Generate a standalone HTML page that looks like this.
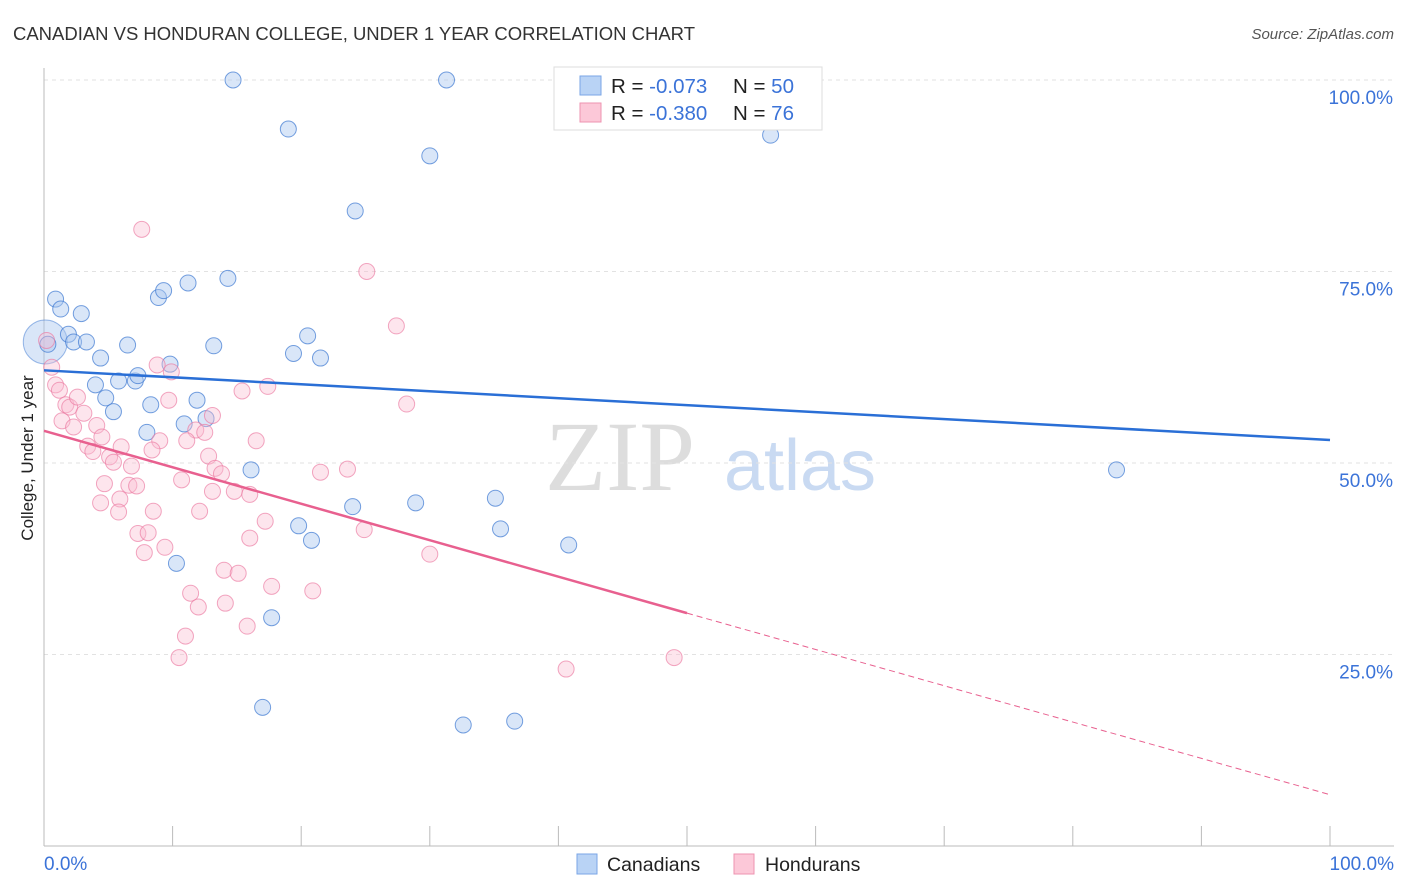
<!DOCTYPE html>
<html><head><meta charset="utf-8"><style>
body{margin:0;background:#fff;font-family:"Liberation Sans",sans-serif}
#c{position:absolute;left:0;top:0}
</style></head><body>
<svg id="c" width="1406" height="892" xmlns="http://www.w3.org/2000/svg">
<text x="13" y="40" font-size="18.5" fill="#333" textLength="682">CANADIAN VS HONDURAN COLLEGE, UNDER 1 YEAR CORRELATION CHART</text>
<text x="1394" y="39" font-size="15" fill="#555" font-style="italic" text-anchor="end">Source: ZipAtlas.com</text>
<text x="620" y="490" font-size="100" fill="#ddd" font-family="Liberation Serif,serif" text-anchor="middle">ZIP</text>
<text x="800" y="490" font-size="72" fill="#c9daf2" text-anchor="middle">atlas</text>
<g id="grid"></g>
<line x1="44" y1="68" x2="44" y2="846" stroke="#bbb"/>
<line x1="44" y1="846" x2="1394" y2="846" stroke="#bbb"/>
<text x="33" y="458" font-size="17" fill="#222" text-anchor="middle" transform="rotate(-90 33 458)">College, Under 1 year</text>
<text x="44" y="870" font-size="19" fill="#3b73d8">0.0%</text>
<text x="1394" y="870" font-size="19" fill="#3b73d8" text-anchor="end">100.0%</text>
<g id="pts"></g>
<g id="lines"></g>
<g>
<rect x="554" y="67" width="268" height="63" fill="#fff" stroke="#ddd"/>
<rect x="580" y="76" width="21" height="19" fill="#b9d3f5" stroke="#7aa6e6"/>
<rect x="580" y="103" width="21" height="19" fill="#fcc8d8" stroke="#ee93b0"/>
<text x="611" y="93" font-size="20.5" fill="#222">R = <tspan fill="#3b73d8">-0.073</tspan><tspan x="733">N = </tspan><tspan fill="#3b73d8">50</tspan></text>
<text x="611" y="120" font-size="20.5" fill="#222">R = <tspan fill="#3b73d8">-0.380</tspan><tspan x="733">N = </tspan><tspan fill="#3b73d8"> 76</tspan></text>
</g>
<g>
<rect x="577" y="854" width="20" height="20" fill="#b9d3f5" stroke="#7aa6e6"/>
<text x="607" y="871" font-size="19.5" fill="#222">Canadians</text>
<rect x="734" y="854" width="20" height="20" fill="#fcc8d8" stroke="#ee93b0"/>
<text x="765" y="871" font-size="19.5" fill="#222">Hondurans</text>
</g>
</svg>
<script>
const yTicks=[25,50,75,100];
const xTickCount=10;
const canX=[14.7,31.3,47.7,19,30,56.5,24.2,0.9,1.3,2.9,8.9,9.3,11.2,14.3,1.9,2.3,3.3,4.4,6.5,13.2,20.5,19.4,21.5,9.8,4,5.8,7.1,7.3,4.8,8.3,11.9,5.4,10.9,12.6,8,16.1,83.4,24,28.9,35.1,19.8,20.8,35.5,40.8,10.3,17.7,17,32.6,36.6,0.3];
const canY=[100,100,100.5,93.6,90.1,92.8,82.9,71.4,70.1,69.5,71.6,72.5,73.5,74.1,66.8,65.8,65.8,63.7,65.4,65.3,66.6,64.3,63.7,62.9,60.2,60.7,60.7,61.4,58.5,57.6,58.2,56.7,55.1,55.8,54,49.1,49.1,44.3,44.8,45.4,41.8,39.9,41.4,39.3,36.9,29.8,18.1,15.8,16.3,65.5];
const honX=[7.6,25.1,27.4,0.2,0.6,0.9,1.2,1.7,2,2.6,3.1,4.1,4.5,5.1,6,1.4,2.3,3.4,3.8,5.4,6.8,8.8,9.9,9.7,11.8,12.5,13.1,11.1,9,8.4,12.8,13.3,13.8,10.7,13.1,14.8,16,16.5,15.4,17.4,21.5,23.6,28.2,24.9,30,4.7,4.4,6.6,7.2,5.9,5.8,8.5,12.1,17.2,7.3,8.1,16,9.4,7.8,14,15.1,17.7,20.9,11.4,12,14.1,15.8,11,10.5,40.6,49];
const honY=[80.5,75,67.9,66,62.5,60.2,59.5,57.6,57.3,58.6,56.5,54.9,53.4,50.8,52.1,55.5,54.7,52.2,51.5,50.1,49.6,62.8,61.9,58.2,54.3,54,56.2,52.9,52.9,51.7,50.9,49.3,48.6,47.8,46.3,46.3,45.9,52.9,59.4,60,48.8,49.2,57.7,41.3,38.1,47.3,44.8,47.1,47,45.3,43.6,43.7,43.7,42.4,40.8,40.9,40.2,39,38.3,36,35.6,33.9,33.3,33,31.2,31.7,28.7,27.4,24.6,23.1,24.6];
const canTrend=[62.1,53];
const honTrend=[54.2,30.4,6.7];
const X=v=>44+v*12.86, Y=v=>846-v*7.66;
const NS="http://www.w3.org/2000/svg";
function mk(t,a,p){const e=document.createElementNS(NS,t);for(const k in a)e.setAttribute(k,a[k]);p.appendChild(e);return e;}
const grid=document.getElementById('grid');
yTicks.forEach(t=>{
 const l=mk('line',{x1:44,x2:1394,y1:Y(t),y2:Y(t),stroke:'#e2e2e2','stroke-dasharray':'4,4'},grid);
 
 
 const tx=mk('text',{x:1393,y:Y(t)+24,'font-size':19,fill:'#3b73d8','text-anchor':'end'},grid);
 tx.textContent=t.toFixed(1)+'%';
 
 
});
for(let i=0;i<=xTickCount;i++){
 const l=mk('line',{x1:X(i*10),x2:X(i*10),y1:826,y2:846,stroke:'#bbb'},grid);
 
 
}
const pts=document.getElementById('pts');
const big=mk('circle',{cx:X(0.1),cy:Y(65.8),r:22,fill:'rgba(170,200,240,0.45)',stroke:'rgba(60,120,210,0.5)'},pts);


canX.forEach((x,i)=>{
 const c=mk('circle',{cx:X(x),cy:Y(canY[i]),r:8,fill:'rgba(170,200,240,0.45)',stroke:'rgba(60,120,210,0.7)'},pts);
 
 
});
honX.forEach((x,i)=>{
 const c=mk('circle',{cx:X(x),cy:Y(honY[i]),r:8,fill:'rgba(250,190,210,0.4)',stroke:'rgba(235,120,160,0.65)'},pts);
 
 
});
const ln=document.getElementById('lines');
const a=mk('line',{x1:X(0),y1:Y(canTrend[0]),x2:X(100),y2:Y(canTrend[1]),stroke:'#2a6fd6','stroke-width':2.5},ln);


const b=mk('line',{x1:X(0),y1:Y(honTrend[0]),x2:X(50),y2:Y(honTrend[1]),stroke:'#e8608f','stroke-width':2.5},ln);


const d=mk('line',{x1:X(50),y1:Y(honTrend[1]),x2:X(100),y2:Y(honTrend[2]),stroke:'#e8608f','stroke-width':1,'stroke-dasharray':'6,4'},ln);


</script>
</body></html>
